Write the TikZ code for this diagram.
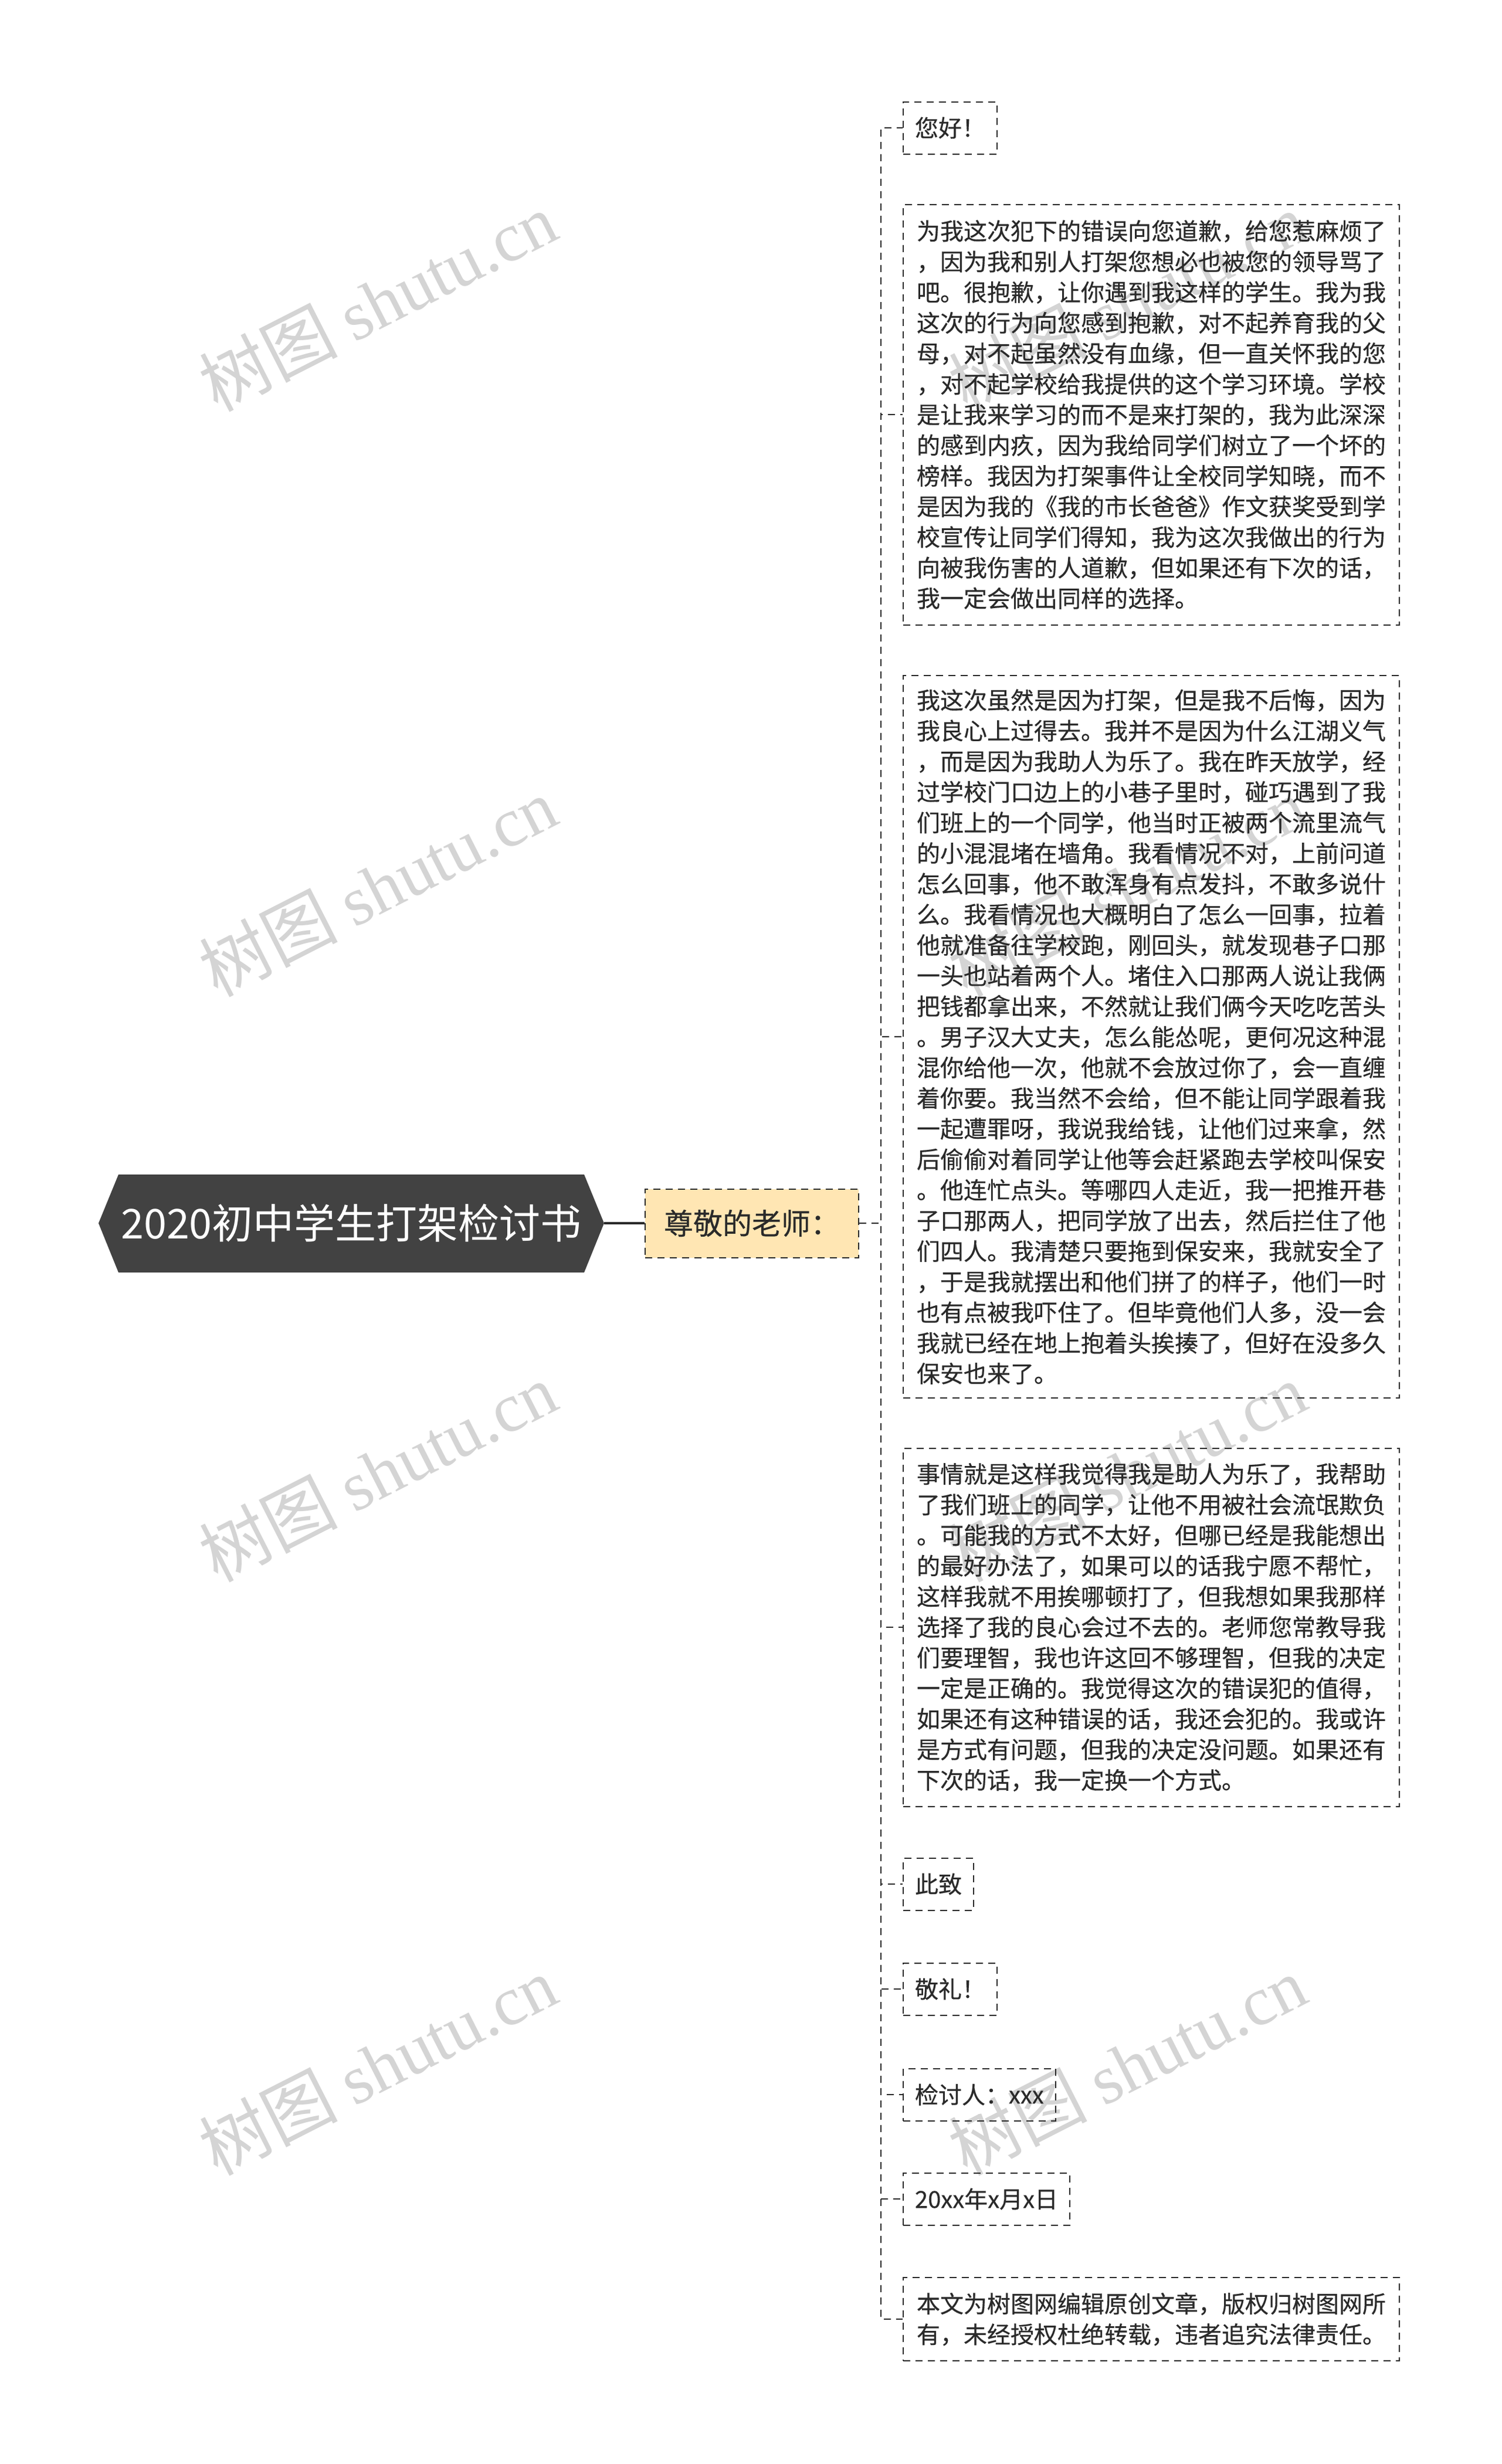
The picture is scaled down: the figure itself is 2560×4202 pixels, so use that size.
\documentclass[tikz,border=0pt]{standalone}
\usepackage{fontspec}
\newfontfamily\cjk[FakeBold=0.4]{Noto Sans CJK SC}
\newfontfamily\cjkplain{Noto Sans CJK SC}
\newfontfamily\wmserif{Liberation Serif}
\definecolor{ink}{HTML}{2A2A2A}
\definecolor{rootfill}{HTML}{424242}
\definecolor{yellowfill}{HTML}{FFE6B3}
\definecolor{wmgray}{HTML}{D4D4D4}
\begin{document}
\begin{tikzpicture}[x=0.5pt,y=-0.5pt,
  wmark/.style={text=wmgray, rotate=27, font=\fontsize{59pt}{62pt}\selectfont, inner sep=0pt},
  leafbox/.style={draw=ink, dash pattern=on 6pt off 4.5pt, line width=1pt,
    font=\cjk\fontsize{20pt}{26.1pt}\selectfont, text=ink, align=left, anchor=west,
    inner xsep=10pt, inner ysep=2pt},
  bigbox/.style={leafbox, minimum width=423pt},
  smallbox/.style={leafbox, minimum height=44.5pt},
  conn/.style={draw=ink, dash pattern=on 6pt off 4.5pt, line width=1pt}]
\fill[white] (0,0) rectangle (2560,4202);
\useasboundingbox (0,0) rectangle (2560,4202);

% watermarks
\foreach \wx/\wy [count=\i] in {644/514, 1922/514, 644/1512, 1922/1512, 644/2510, 1922/2510, 644/3522, 1922/3522}
  \node[wmark] (wm\i) at (\wx,\wy) {\cjkplain 树图 \wmserif shutu.cn};

% root
\fill[rootfill] (168,2086) -- (202,2003) -- (996,2003) -- (1030,2086) -- (996,2170) -- (202,2170) -- cycle;
\node[minimum width=431pt, minimum height=83.5pt, inner sep=0pt, text=white,
  font=\cjkplain\fontsize{35pt}{40pt}\selectfont] (root) at (599,2086) {2020初中学生打架检讨书};

% teacher
\node[draw=ink, fill=yellowfill, dash pattern=on 6pt off 4.5pt, line width=1pt,
  minimum width=182pt, minimum height=58.5pt, inner sep=0pt, text=ink,
  font=\cjk\fontsize{25pt}{30pt}\selectfont] (teacher) at (1282,2086) {尊敬的老师：};
\draw[ink, line width=2pt] (root.east) -- (teacher.west);

\coordinate (trunk) at (1502,2086);

% children
\node[smallbox] (hello) at (1539,218) {您好！};
\node[bigbox, minimum height=358.5pt] (p1) at (1539,707) {为我这次犯下的错误向您道歉，给您惹麻烦了\\
，因为我和别人打架您想必也被您的领导骂了\\
吧。很抱歉，让你遇到我这样的学生。我为我\\
这次的行为向您感到抱歉，对不起养育我的父\\
母，对不起虽然没有血缘，但一直关怀我的您\\
，对不起学校给我提供的这个学习环境。学校\\
是让我来学习的而不是来打架的，我为此深深\\
的感到内疚，因为我给同学们树立了一个坏的\\
榜样。我因为打架事件让全校同学知晓，而不\\
是因为我的《我的市长爸爸》作文获奖受到学\\
校宣传让同学们得知，我为这次我做出的行为\\
向被我伤害的人道歉，但如果还有下次的话，\\
我一定会做出同样的选择。};
\node[bigbox, minimum height=616pt] (p2) at (1539,1768) {我这次虽然是因为打架，但是我不后悔，因为\\
我良心上过得去。我并不是因为什么江湖义气\\
，而是因为我助人为乐了。我在昨天放学，经\\
过学校门口边上的小巷子里时，碰巧遇到了我\\
们班上的一个同学，他当时正被两个流里流气\\
的小混混堵在墙角。我看情况不对，上前问道\\
怎么回事，他不敢浑身有点发抖，不敢多说什\\
么。我看情况也大概明白了怎么一回事，拉着\\
他就准备往学校跑，刚回头，就发现巷子口那\\
一头也站着两个人。堵住入口那两人说让我俩\\
把钱都拿出来，不然就让我们俩今天吃吃苦头\\
。男子汉大丈夫，怎么能怂呢，更何况这种混\\
混你给他一次，他就不会放过你了，会一直缠\\
着你要。我当然不会给，但不能让同学跟着我\\
一起遭罪呀，我说我给钱，让他们过来拿，然\\
后偷偷对着同学让他等会赶紧跑去学校叫保安\\
。他连忙点头。等哪四人走近，我一把推开巷\\
子口那两人，把同学放了出去，然后拦住了他\\
们四人。我清楚只要拖到保安来，我就安全了\\
，于是我就摆出和他们拼了的样子，他们一时\\
也有点被我吓住了。但毕竟他们人多，没一会\\
我就已经在地上抱着头挨揍了，但好在没多久\\
保安也来了。};
\node[bigbox, minimum height=305.5pt] (p3) at (1539,2775) {事情就是这样我觉得我是助人为乐了，我帮助\\
了我们班上的同学，让他不用被社会流氓欺负\\
。可能我的方式不太好，但哪已经是我能想出\\
的最好办法了，如果可以的话我宁愿不帮忙，\\
这样我就不用挨哪顿打了，但我想如果我那样\\
选择了我的良心会过不去的。老师您常教导我\\
们要理智，我也许这回不够理智，但我的决定\\
一定是正确的。我觉得这次的错误犯的值得，\\
如果还有这种错误的话，我还会犯的。我或许\\
是方式有问题，但我的决定没问题。如果还有\\
下次的话，我一定换一个方式。};
\node[smallbox] (zhi) at (1539,3213) {此致};
\node[smallbox] (li) at (1539,3392) {敬礼！};
\node[smallbox] (author) at (1539,3572) {检讨人：xxx};
\node[smallbox] (date) at (1539,3750) {20xx年x月x日};
\node[bigbox, minimum height=71pt] (note) at (1539,3955) {本文为树图网编辑原创文章，版权归树图网所\\
有，未经授权杜绝转载，违者追究法律责任。};

\foreach \c in {hello,p1,p2,p3,zhi,li,author,date,note}
  \draw[conn] (teacher.east) -- (trunk) |- (\c.west);
\end{tikzpicture}
\end{document}
